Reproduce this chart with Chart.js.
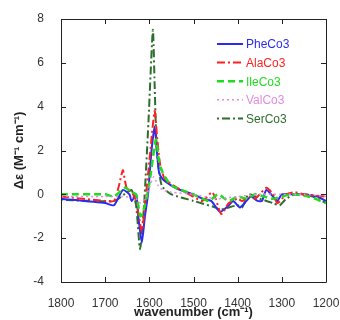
<!DOCTYPE html>
<html>
<head>
<meta charset="utf-8">
<script src="https://cdn.jsdelivr.net/npm/chart.js@4"></script>
<style>
  body { margin: 0; background: #fff; }
  #wrap { width: 340px; height: 320px; }
</style>
</head>
<body>
<div id="wrap"><canvas id="cd"></canvas></div>
<script>
const names = ["PheCo3", "AlaCo3", "IleCo3", "ValCo3", "SerCo3"];
const colors = ["#2b2bf0", "#ff1f1f", "#1fdc1f", "#e08be0", "#2d6e2d"];

const pheX = [1800, 1700, 1680, 1660, 1645, 1640, 1630, 1625, 1617, 1610, 1603, 1595, 1588, 1583, 1578, 1570, 1550, 1530, 1500, 1480, 1460, 1440, 1420, 1410, 1395, 1380, 1370, 1355, 1345, 1335, 1320, 1310, 1300, 1280, 1250, 1220, 1200];
const pheY = [-0.2, -0.4, -0.5, 0.2, 0, -0.3, 0, -1, -2.2, -1, 0, 2, 3.1, 2, 1, 0.7, 0.4, 0.2, 0, -0.2, -0.3, -0.8, -0.5, -0.3, -0.6, -0.3, -0.1, -0.3, -0.3, 0.2, -0.1, -0.3, 0, 0, 0, -0.1, -0.3];

const alaX = [1800, 1700, 1680, 1670, 1660, 1655, 1650, 1640, 1630, 1617, 1610, 1600, 1588, 1582, 1575, 1565, 1545, 1510, 1480, 1458, 1450, 1437, 1420, 1400, 1390, 1370, 1360, 1335, 1320, 1310, 1290, 1270, 1250, 1200];
const alaY = [-0.1, -0.3, -0.3, 0.3, 1.1, 0.6, 0.2, 0.1, -0.3, -1.7, -0.5, 1.5, 3.8, 2.5, 1.3, 0.7, 0.4, 0, -0.3, 0.1, -0.2, -0.9, -0.4, -0.2, -0.3, -0.1, -0.2, 0.3, 0, -0.4, 0, 0.1, 0, -0.1];

const ileX = [1800, 1700, 1680, 1655, 1640, 1630, 1620, 1610, 1600, 1585, 1578, 1570, 1550, 1500, 1465, 1445, 1420, 1400, 1380, 1360, 1340, 1320, 1280, 1240, 1200];
const ileY = [0, 0, -0.1, 0.3, 0.1, 0, -1, -0.5, 0.5, 2.5, 1.5, 1, 0.4, 0, -0.3, 0, -0.3, -0.1, -0.2, 0, -0.1, -0.2, 0, -0.1, -0.4];

const valX = [1800, 1700, 1660, 1630, 1620, 1610, 1600, 1590, 1580, 1570, 1550, 1500, 1450, 1400, 1350, 1300, 1250, 1200];
const valY = [-0.1, -0.1, -0.1, -0.2, -0.4, -0.2, 0.3, 0.8, 0.4, 0.2, 0.1, 0, -0.2, -0.1, 0, 0, 0, -0.1];

const serX = [1800, 1680, 1650, 1640, 1630, 1621, 1612, 1602, 1592, 1588, 1583, 1572, 1550, 1500, 1450, 1440, 1400, 1390, 1375, 1350, 1320, 1305, 1290, 1270, 1230, 1200];
const serY = [-0.25, -0.3, 0.1, 0.2, -0.5, -2.5, -0.5, 3.3, 7.5, 5, 2, 0.4, 0, -0.3, -0.6, -0.7, -0.5, -0.6, 0, -0.2, -0.4, -0.5, -0.2, 0, -0.1, -0.4];

const xTicks = [1800, 1700, 1600, 1500, 1400, 1300, 1200];
const yTicks = [-4, -2, 0, 2, 4, 6, 8];

const dashes = [[], [8, 3, 2, 3], [7, 4], [2, 3], [2, 3, 8, 3]];
const widths = [2, 2, 2.5, 1.5, 2];

function pts(xs, ys) {
    return xs.map((x, i) => ({ x: x, y: ys[i] }));
}

const series = [pts(pheX, pheY), pts(alaX, alaY), pts(ileX, ileY), pts(valX, valY), pts(serX, serY)];

// plot box, inward ticks and legend inside the chart area
const frame = {
    id: "frame",
    afterDraw(chart) {
        const c = chart.ctx;
        const a = chart.chartArea;
        const sx = chart.scales.x;
        const sy = chart.scales.y;
        c.save();
        c.setLineDash([]);
        c.strokeStyle = "#222222";
        c.lineWidth = 1;
        c.beginPath();
        c.rect(Math.round(a.left) + 0.5, Math.round(a.top) + 0.5, Math.round(a.right - a.left), Math.round(a.bottom - a.top));
        xTicks.forEach(v => {
            const px = Math.round(sx.getPixelForValue(v)) + 0.5;
            c.moveTo(px, a.bottom); c.lineTo(px, a.bottom - 5);
            c.moveTo(px, a.top); c.lineTo(px, a.top + 5);
        });
        yTicks.forEach(v => {
            const py = Math.round(sy.getPixelForValue(v)) + 0.5;
            c.moveTo(a.left, py); c.lineTo(a.left + 5, py);
            c.moveTo(a.right, py); c.lineTo(a.right - 5, py);
        });
        c.stroke();

        c.font = "12px 'Liberation Sans', Arial, sans-serif";
        c.textBaseline = "middle";
        c.textAlign = "left";
        names.forEach((n, i) => {
            const y = 44 + i * 18.6;
            c.strokeStyle = colors[i];
            c.lineWidth = widths[i];
            c.setLineDash(dashes[i]);
            c.beginPath();
            c.moveTo(217, y); c.lineTo(243, y);
            c.stroke();
            c.fillStyle = colors[i];
            c.fillText(n, 246, y + 1);
        });
        c.restore();
    }
};

new Chart(document.getElementById("cd"), {
    type: "line",
    data: {
        datasets: names.map((n, i) => ({
            label: n,
            data: series[i],
            borderColor: colors[i],
            backgroundColor: colors[i],
            borderWidth: widths[i],
            borderDash: dashes[i],
            pointRadius: 0,
            tension: 0.2,
            fill: false,
            order: i === 4 ? 5 : 4 - i,
        })),
    },
    options: {
        responsive: true,
        maintainAspectRatio: false,
        animation: false,
        layout: { padding: { top: 19, right: 14, left: 12, bottom: 0 } },
        plugins: {
            legend: { display: false },
            tooltip: { enabled: false },
        },
        scales: {
            x: {
                type: "linear",
                reverse: true,
                min: 1200,
                max: 1800,
                afterBuildTicks(s) { s.ticks = xTicks.map(v => ({ value: v })); },
                afterFit(s) { s.height = 38; s.paddingLeft = 0; s.paddingRight = 0; },
                grid: { display: false },
                border: { display: false },
                ticks: {
                    color: "#333",
                    padding: 6,
                    font: { family: "'Liberation Sans', Arial, sans-serif", size: 12 },
                    maxRotation: 0,
                    callback: v => String(v),
                },
                title: {
                    display: true,
                    text: "wavenumber (cm⁻¹)",
                    color: "#222",
                    padding: { top: 0, bottom: 0 },
                    font: { family: "'Liberation Sans', Arial, sans-serif", size: 13, weight: "bold" },
                },
            },
            y: {
                min: -4,
                max: 8,
                afterBuildTicks(s) { s.ticks = yTicks.map(v => ({ value: v })); },
                afterFit(s) { s.width = 49; s.paddingTop = 0; s.paddingBottom = 0; },
                grid: { display: false },
                border: { display: false },
                ticks: {
                    color: "#333",
                    padding: 9,
                    font: { family: "'Liberation Sans', Arial, sans-serif", size: 12 },
                },
                title: {
                    display: true,
                    text: "Δε (M⁻¹ cm⁻¹)",
                    color: "#222",
                    padding: { top: 0, bottom: 2 },
                    font: { family: "'Liberation Sans', Arial, sans-serif", size: 13, weight: "bold" },
                },
            },
        },
    },
    plugins: [frame],
});
</script>
</body>
</html>
